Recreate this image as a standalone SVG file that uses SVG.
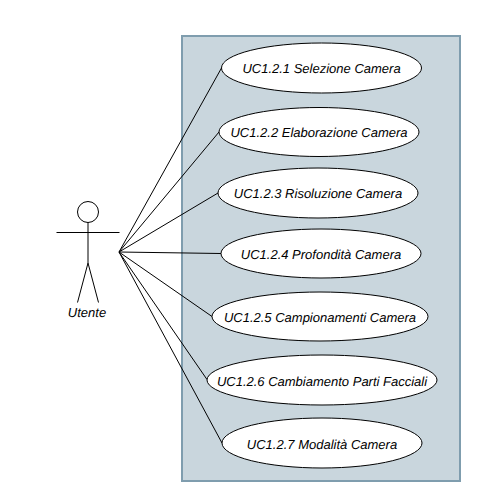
<svg xmlns="http://www.w3.org/2000/svg" width="480" height="501" viewBox="0 0 480 501">
<style>
.uc{fill:#fff;stroke:#000;stroke-width:1}
.l{fill:none;stroke:#000;stroke-width:1}
text{font-family:"Liberation Sans",Arial,sans-serif;font-style:italic;font-size:13px;fill:#000;text-anchor:middle;text-rendering:geometricPrecision}
</style>
<rect width="480" height="501" fill="#fff"/>
<g id="system"><rect x="182" y="36" width="278" height="445" fill="#c9d6dd" stroke="#7f9dae" stroke-width="2"/></g>
<g id="connectors" class="l">
<path d="M119 252L221.500 68"/>
<path d="M119 252L219 132"/>
<path d="M119 252L218 193"/>
<path d="M119 252L221 253.500"/>
<path d="M119 252L212 316.500"/>
<path d="M119 252L207 379.500"/>
<path d="M119 252L222 443"/>
</g>
<g id="actor" class="l">
<circle cx="88" cy="212" r="10.500" fill="#fff"/>
<path d="M88 222.500V263M56.500 232.500H119.500M88 263L77.500 302.500M88 263L98.500 302.500"/>
<text x="87" y="317" stroke="none">Utente</text>
</g>
<g id="uc1"><ellipse class="uc" cx="321.500" cy="68" rx="100" ry="25"/><text x="321.500" y="73">UC1.2.1 Selezione Camera</text></g>
<g id="uc2"><ellipse class="uc" cx="319" cy="132" rx="100" ry="24.500"/><text x="319" y="137">UC1.2.2 Elaborazione Camera</text></g>
<g id="uc3"><ellipse class="uc" cx="318" cy="193" rx="100" ry="25"/><text x="318" y="198">UC1.2.3 Risoluzione Camera</text></g>
<g id="uc4"><ellipse class="uc" cx="321" cy="253.500" rx="100" ry="24.500"/><text x="321" y="259">UC1.2.4 Profondità Camera</text></g>
<g id="uc5"><ellipse class="uc" cx="320" cy="316.500" rx="108" ry="24.500"/><text x="320" y="322">UC1.2.5 Campionamenti Camera</text></g>
<g id="uc6"><ellipse class="uc" cx="322" cy="380" rx="115" ry="25"/><text x="322" y="386">UC1.2.6 Cambiamento Parti Facciali</text></g>
<g id="uc7"><ellipse class="uc" cx="322" cy="443" rx="100" ry="25"/><text x="322" y="449">UC1.2.7 Modalità Camera</text></g>
</svg>
